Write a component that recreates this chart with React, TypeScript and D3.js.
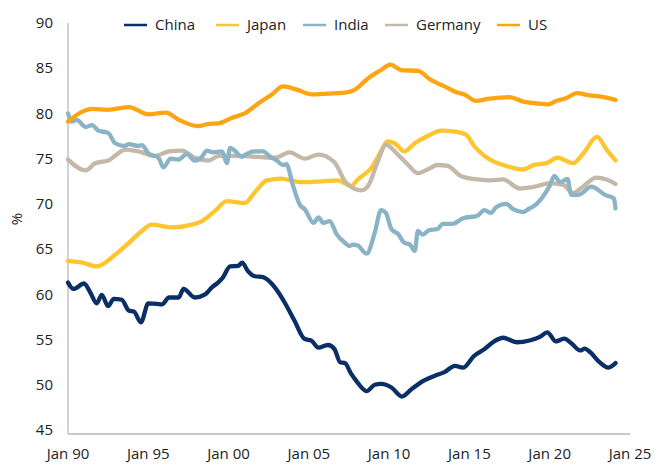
import * as d3 from "d3";

// decimal year, value (%)
const china: [number, number][] = [
  [1990.0, 61.3], [1990.35, 60.6], [1991.0, 61.2], [1991.4, 60.2], [1991.8, 59.0], [1992.1, 59.95],
  [1992.5, 58.7], [1992.85, 59.5], [1993.35, 59.4], [1993.8, 58.2], [1994.1, 58.1], [1994.55, 56.9],
  [1995.0, 59.0], [1995.55, 58.95], [1995.85, 58.9], [1996.3, 59.65], [1996.9, 59.65], [1997.2, 60.6],
  [1997.9, 59.65], [1998.55, 60.0], [1998.95, 60.75], [1999.35, 61.3], [1999.65, 61.85], [2000.1, 63.1],
  [2000.6, 63.15], [2000.85, 63.5], [2001.2, 62.6], [2001.65, 62.0], [2002.15, 61.9], [2002.9, 60.75],
  [2003.5, 59.1], [2004.1, 57.1], [2004.75, 55.05], [2005.15, 54.9], [2005.6, 54.1], [2006.2, 54.4],
  [2006.6, 53.95], [2006.95, 52.5], [2007.25, 52.4], [2007.65, 51.2], [2007.95, 50.45], [2008.6, 49.3],
  [2009.1, 50.0], [2009.5, 50.1], [2010.15, 49.7], [2010.8, 48.7], [2011.4, 49.5], [2012.0, 50.3],
  [2012.85, 51.0], [2013.45, 51.4], [2014.1, 52.1], [2014.6, 51.9], [2015.3, 53.2], [2015.95, 53.95],
  [2016.55, 54.8], [2017.1, 55.2], [2017.95, 54.7], [2018.75, 54.9], [2019.4, 55.3], [2019.85, 55.8],
  [2020.4, 54.8], [2020.9, 55.1], [2021.35, 54.6], [2021.9, 53.8], [2022.2, 54.0], [2022.5, 53.65],
  [2023.1, 52.5], [2023.65, 51.9], [2024.1, 52.4],
];

const japan: [number, number][] = [
  [1990.0, 63.7], [1990.9, 63.5], [1991.8, 63.1], [1992.95, 64.4], [1993.8, 65.7], [1994.6, 67.0],
  [1995.2, 67.7], [1996.5, 67.4], [1997.7, 67.7], [1998.35, 68.1], [1999.15, 69.2], [1999.9, 70.3],
  [2001.0, 70.1], [2001.6, 71.2], [2002.4, 72.6], [2003.3, 72.8], [2004.1, 72.5], [2004.75, 72.4],
  [2005.8, 72.5], [2006.8, 72.6], [2007.65, 72.0], [2008.05, 72.7], [2008.9, 74.0], [2009.5, 75.8],
  [2009.9, 76.9], [2010.35, 76.7], [2010.95, 75.8], [2011.6, 76.7], [2012.4, 77.5], [2013.25, 78.1],
  [2014.1, 78.0], [2014.8, 77.65], [2015.3, 76.4], [2015.95, 75.3], [2016.5, 74.7], [2017.1, 74.3],
  [2018.35, 73.8], [2019.0, 74.3], [2019.8, 74.5], [2020.5, 75.1], [2021.45, 74.5], [2022.1, 75.6],
  [2022.95, 77.4], [2023.55, 76.0], [2024.1, 74.8],
];

const india: [number, number][] = [
  [1990.0, 80.0], [1990.25, 79.1], [1990.55, 79.3], [1991.1, 78.5], [1991.5, 78.7], [1991.9, 78.1],
  [1992.5, 77.85], [1992.95, 76.7], [1993.5, 76.4], [1993.8, 76.6], [1994.4, 76.4], [1994.6, 76.5],
  [1995.0, 75.6], [1995.65, 75.1], [1995.95, 74.05], [1996.4, 75.0], [1996.9, 74.9], [1997.4, 75.5],
  [1997.9, 74.8], [1998.35, 75.2], [1998.65, 75.9], [1999.05, 75.7], [1999.6, 75.8], [1999.9, 74.5],
  [2000.1, 76.2], [2000.5, 75.7], [2000.8, 75.2], [2001.1, 75.5], [2001.6, 75.8], [2002.15, 75.8],
  [2002.6, 75.2], [2003.0, 74.8], [2003.4, 74.3], [2003.6, 74.4], [2004.0, 72.1], [2004.45, 69.9],
  [2004.75, 69.4], [2005.3, 67.9], [2005.6, 68.5], [2005.9, 67.9], [2006.3, 68.1], [2006.75, 66.6],
  [2007.25, 65.7], [2007.55, 65.35], [2007.75, 65.5], [2008.05, 65.4], [2008.6, 64.5], [2009.1, 66.8],
  [2009.5, 69.3], [2009.8, 69.0], [2010.15, 67.2], [2010.55, 66.7], [2010.95, 65.7], [2011.3, 65.5],
  [2011.6, 64.8], [2011.8, 67.0], [2012.1, 66.6], [2012.5, 67.1], [2013.0, 67.2], [2013.35, 67.8],
  [2013.95, 67.8], [2014.6, 68.4], [2015.5, 68.7], [2015.95, 69.3], [2016.35, 69.0], [2016.65, 69.6],
  [2017.3, 70.0], [2017.7, 69.45], [2018.35, 69.1], [2018.75, 69.5], [2019.2, 70.0], [2019.6, 70.85],
  [2020.0, 72.0], [2020.3, 73.1], [2020.65, 72.4], [2021.1, 72.75], [2021.35, 71.0], [2021.8, 71.0],
  [2022.6, 71.9], [2023.45, 71.0], [2024.0, 70.6], [2024.1, 69.5],
];

const germany: [number, number][] = [
  [1990.0, 74.9], [1991.1, 73.7], [1991.7, 74.5], [1992.5, 74.8], [1993.6, 76.0], [1994.4, 75.8],
  [1995.4, 75.3], [1996.3, 75.8], [1997.1, 75.9], [1997.9, 75.1], [1998.75, 74.8], [1999.4, 75.3],
  [2000.6, 75.3], [2001.85, 75.2], [2002.9, 75.1], [2003.8, 75.7], [2004.75, 75.0], [2005.6, 75.45],
  [2006.6, 74.6], [2007.25, 72.5], [2007.8, 71.7], [2008.3, 71.5], [2008.7, 72.0], [2009.3, 74.7],
  [2009.8, 76.55], [2010.55, 75.45], [2011.2, 74.3], [2011.8, 73.4], [2012.4, 73.8], [2013.0, 74.3],
  [2013.65, 74.2], [2014.5, 73.05], [2015.5, 72.7], [2016.35, 72.6], [2017.1, 72.7], [2018.15, 71.7],
  [2019.2, 71.95], [2020.0, 72.3], [2020.85, 72.1], [2021.45, 71.2], [2022.1, 71.95], [2022.9, 72.9],
  [2023.55, 72.7], [2024.1, 72.2],
];

const us: [number, number][] = [
  [1990.0, 79.1], [1990.9, 80.2], [1991.5, 80.5], [1992.5, 80.4], [1993.8, 80.7], [1995.0, 79.9],
  [1996.1, 80.1], [1996.9, 79.3], [1998.1, 78.6], [1998.75, 78.85], [1999.36, 78.9], [2000.2, 79.5],
  [2001.0, 80.0], [2001.85, 81.1], [2002.7, 82.1], [2003.4, 83.0], [2004.3, 82.6], [2005.2, 82.1],
  [2006.2, 82.2], [2007.25, 82.3], [2007.85, 82.6], [2008.7, 83.9], [2009.5, 84.8], [2010.07, 85.4],
  [2010.75, 84.8], [2011.8, 84.7], [2012.6, 83.7], [2013.45, 83.0], [2014.1, 82.4], [2014.7, 82.1],
  [2015.4, 81.4], [2016.15, 81.6], [2017.5, 81.8], [2018.35, 81.3], [2019.2, 81.1], [2019.9, 81.0],
  [2020.43, 81.4], [2021.05, 81.7], [2021.7, 82.25], [2022.5, 82.0], [2023.1, 81.9], [2024.1, 81.5],
];

const legendNames = ["China", "Japan", "India", "Germany", "US"];
const yTicks = [45, 50, 55, 60, 65, 70, 75, 80, 85, 90];

const colors: Record<string, string> = {
  China: "#0a2f66",
  Japan: "#ffc52e",
  India: "#8ab3c6",
  Germany: "#c4b8a8",
  US: "#ffa514",
};

const seriesByName: Record<string, [number, number][]> = {
  China: china, Japan: japan, India: india, Germany: germany, US: us,
};
// india sits over germany in the original
const drawOrder = ["China", "Japan", "Germany", "India", "US"];

const W = 654;
const H = 464;
const FONT = "'Open Sans', sans-serif";
const TXT = "#222";

function toDate(y: number) {
  const yr = Math.floor(y);
  const m = (y - yr) * 12;
  return new Date(yr, Math.floor(m), 1 + Math.round((m - Math.floor(m)) * 28));
}

export default function App() {
  const x = d3.scaleTime()
    .domain([new Date(1990, 0, 1), new Date(2025, 0, 1)])
    .range([68, 630]);
  const y = d3.scaleLinear().domain([45, 90]).range([430, 23]);

  const line = d3.line<[number, number]>()
    .x(d => x(toDate(d[0])))
    .y(d => y(d[1]))
    .curve(d3.curveMonotoneX);

  const xTicks = x.ticks(d3.timeYear.every(5)!);
  const fmt = d3.timeFormat("%b %y");

  // legend swatch start x
  const legendX = [124, 216, 303, 385, 497];

  return (
    <svg width={W} height={H} style={{ position: "absolute", left: 0, top: 0 }} fontFamily={FONT}>
      <rect width={W} height={H} fill="#fff" />

      {/* axes */}
      <line x1={68} x2={68} y1={23} y2={434} stroke="#a6a6a6" strokeWidth={1} />
      <line x1={68} x2={630} y1={434} y2={434} stroke="#c8c8c8" strokeWidth={2} />

      {yTicks.map(t => (
        <text key={t} x={53} y={y(t)} dy="0.35em" textAnchor="end" fontSize={15} fill={TXT}>
          {t}
        </text>
      ))}
      {xTicks.map(t => (
        <text key={+t} x={x(t)} y={459} textAnchor="middle" fontSize={15} fill={TXT}>
          {fmt(t)}
        </text>
      ))}
      <text transform={`translate(22,219) rotate(-90)`} textAnchor="middle" fontSize={15} fill={TXT}>
        %
      </text>

      {drawOrder.map(name => (
        <path key={name} d={line(seriesByName[name]) ?? ""} fill="none" stroke={colors[name]}
          strokeWidth={4.3} strokeLinejoin="round" strokeLinecap="round" />
      ))}

      {/* legend */}
      {legendNames.map((name, i) => (
        <g key={name} transform={`translate(${legendX[i]},25)`}>
          <line x1={0} x2={23} y1={0} y2={0} stroke={colors[name]} strokeWidth={2.5} />
          <text x={31} y={0} dy="0.35em" fontSize={15} fill={TXT}>{name}</text>
        </g>
      ))}
    </svg>
  );
}
